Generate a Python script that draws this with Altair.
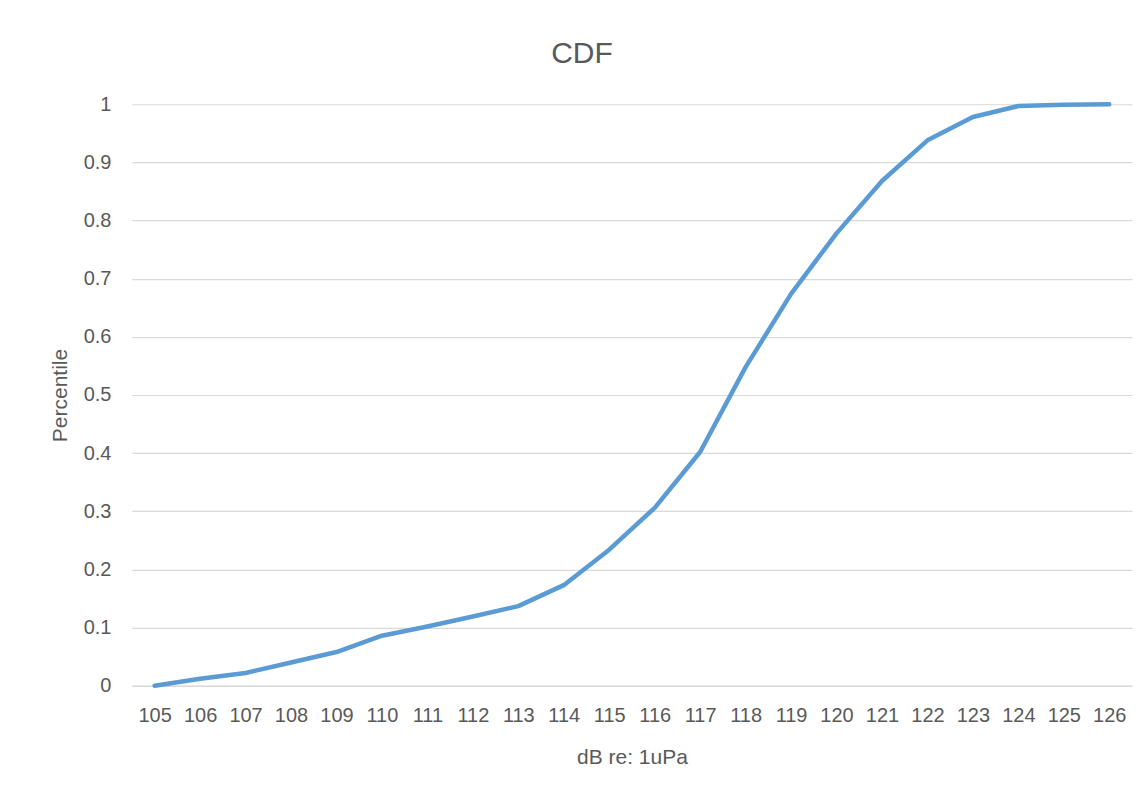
import altair as alt
import pandas as pd

db_levels = [105, 106, 107, 108, 109, 110, 111, 112, 113, 114, 115,
             116, 117, 118, 119, 120, 121, 122, 123, 124, 125, 126]
percentile = [0.0, 0.012, 0.022, 0.040, 0.058, 0.086, 0.102, 0.119, 0.137, 0.173, 0.234,
              0.306, 0.402, 0.548, 0.674, 0.778, 0.868, 0.938, 0.978, 0.997, 0.999, 1.0]
y_ticks = [0, 0.1, 0.2, 0.3, 0.4, 0.5, 0.6, 0.7, 0.8, 0.9, 1]

df = pd.DataFrame({"db": db_levels, "p": percentile})

FONT = "Liberation Sans"
GREY = "#595959"

chart = (
    alt.Chart(df)
    .mark_line(color="#5b9bd5", strokeWidth=4.5, strokeCap="round", strokeJoin="round")
    .encode(
        x=alt.X(
            "db:O",
            sort=db_levels,
            scale=alt.Scale(type="point", padding=0.5),
            axis=alt.Axis(
                title="dB re: 1uPa",
                labelAngle=0,
                labelFontSize=20,
                labelColor=GREY,
                labelFont=FONT,
                labelPadding=20,
                ticks=False,
                domain=True,
                domainColor="#d9d9d9",
                domainWidth=1.5,
                grid=False,
                titleFontSize=21,
                titleFont=FONT,
                titleColor=GREY,
                titleFontWeight="normal",
                titlePadding=21,
            ),
        ),
        y=alt.Y(
            "p:Q",
            scale=alt.Scale(domain=[0, 1], nice=False),
            axis=alt.Axis(
                title="Percentile",
                values=y_ticks,
                format="~g",
                labelFontSize=20,
                labelColor=GREY,
                labelFont=FONT,
                labelPadding=21,
                ticks=False,
                domain=False,
                grid=True,
                gridColor="#d9d9d9",
                gridWidth=1.2,
                titleFontSize=21,
                titleFont=FONT,
                titleColor=GREY,
                titleFontWeight="normal",
                titlePadding=13,
            ),
        ),
    )
    .properties(
        width=1001,
        height=582,
        title=alt.TitleParams(
            "CDF", fontSize=30, font=FONT, color=GREY, fontWeight="normal",
            anchor="middle", offset=25, dx=-50,
        ),
        autosize=alt.AutoSizeParams(type="none"),
        padding={"left": 124, "top": 96, "right": 8, "bottom": 107},
        background="white",
    )
    .configure_view(strokeWidth=0, stroke="transparent")
)

chart.save("out.html", embed_options={"renderer": "svg", "actions": False})
